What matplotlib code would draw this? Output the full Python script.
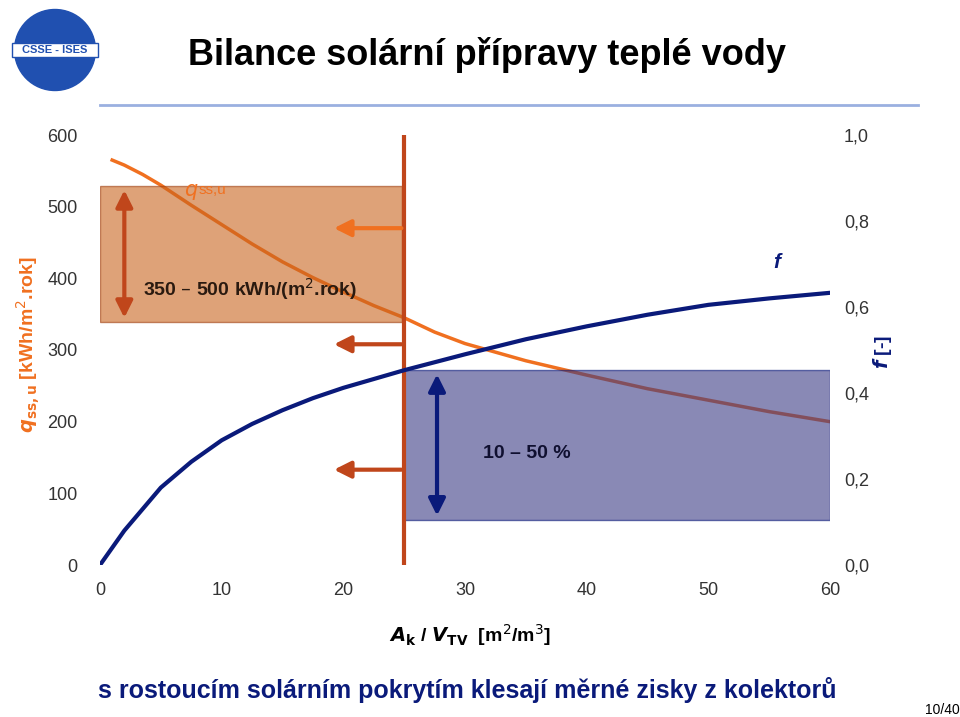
import matplotlib
matplotlib.use('Agg')
import matplotlib.pyplot as plt
from matplotlib.patches import Rectangle

# data
x_q = [1, 2, 3.5, 5, 7.5, 10, 12.5, 15, 17.5, 20, 22.5, 25, 27.5, 30, 35, 40, 45, 50, 55, 60]
q_vals = [565, 558, 545, 530, 502, 475, 448, 423, 401, 381, 362, 345, 325, 309, 285, 265, 246, 230, 214, 200]
x_f = [0, 2, 5, 7.5, 10, 12.5, 15, 17.5, 20, 25, 30, 35, 40, 45, 50, 55, 60]
f_vals = [0.0, 0.08, 0.18, 0.24, 0.29, 0.328, 0.36, 0.388, 0.412, 0.453, 0.49, 0.525, 0.555, 0.582, 0.605, 0.62, 0.633]
x_ticks = [0, 10, 20, 30, 40, 50, 60]
q_ticks = [0, 100, 200, 300, 400, 500, 600]
f_ticks = [0.0, 0.2, 0.4, 0.6, 0.8, 1.0]

orange = '#f07020'
navy = '#0a1a7a'
brick = '#c0461b'

plt.rcParams['font.family'] = 'Liberation Sans'
fig = plt.figure(figsize=(9.6, 7.17), dpi=100)
ax = fig.add_axes([100/960, 1-565/717, 730/960, 430/717])
ax2 = ax.twinx()

ax.set_xlim(0, 60)
ax.set_ylim(0, 600)
ax2.set_ylim(0, 1.0)
for a in (ax, ax2):
    for s in a.spines.values():
        s.set_visible(False)
    a.tick_params(length=0, labelsize=13, colors='#333333')
ax.set_xticks(x_ticks)
ax.set_yticks(q_ticks)
ax2.set_yticks(f_ticks)
ax2.set_yticklabels([f'{v:.1f}'.replace('.', ',') for v in f_ticks])
ax.tick_params(axis='y', pad=16)
ax.tick_params(axis='x', pad=12)
ax2.tick_params(axis='y', pad=10)

ax.plot(x_q, q_vals, color=orange, lw=2.5, zorder=2)
ax2.plot(x_f, f_vals, color=navy, lw=3, zorder=2)

ax.add_patch(Rectangle((0, 339), 24.8, 190, facecolor='#c8641e', alpha=0.6,
                       edgecolor='#a04010', lw=1, zorder=3))
ax.add_patch(Rectangle((25, 63), 35, 209, facecolor='#3a3a85', alpha=0.6,
                       edgecolor=navy, lw=1, zorder=3))
ax.axvline(25, color=brick, lw=3, zorder=4)

def arrow(x0, y0, x1, y1, c, both=False):
    ax.annotate('', xy=(x1, y1), xytext=(x0, y0), zorder=5,
                arrowprops=dict(arrowstyle='<|-|>' if both else '-|>', color=c,
                                lw=3, mutation_scale=25))

arrow(25, 470, 19, 470, orange)
arrow(25, 308, 19, 308, brick)
arrow(25, 133, 19, 133, brick)
arrow(2, 527, 2, 341, brick, both=True)
arrow(27.7, 270, 27.7, 65, navy, both=True)

ax.text(6.9, 515, '$q$', color=orange, fontsize=15, fontweight='bold', style='italic')
ax.text(8.1, 517, 'ss,u', color=orange, fontsize=11)
ax.text(3.5, 375, '350 – 500 kWh/(m$^2$.rok)', color='#2a1a10', fontsize=14,
        fontweight='bold')
ax.text(31.5, 150, '10 – 50 %', color='#101030', fontsize=14, fontweight='bold', zorder=6)
ax.text(55.3, 415, 'f', color=navy, fontsize=15, fontweight='bold', style='italic')

fig.text(28/960, 1-345/717, '$\\mathbfit{q}$$_{\\mathbf{ss,u}}$ [kWh/m$^2$.rok]', color=orange,
         fontsize=14, fontweight='bold', rotation=90, va='center', ha='center')
fig.text(883/960, 1-352/717, '$\\mathbfit{f}$ [-]', color=navy,
         fontsize=14, fontweight='bold', rotation=90, va='center', ha='center')
fig.text(470/960, 1-635/717, '$\\mathbfit{A}$$_{\\mathbf{k}}$ / $\\mathbfit{V}$$_{\\mathbf{TV}}$  [m$^2$/m$^3$]',
         fontsize=14, fontweight='bold', ha='center', va='center')

fig.text(487/960, 1-55/717, 'Bilance solární přípravy teplé vody', fontsize=26,
         ha='center', va='center', fontweight='bold')
fig.add_artist(plt.Line2D([100/960, 918/960], [1-105/717, 1-105/717], color='#9ab0e0', lw=2))
fig.text(467/960, 1-690/717, 's rostoucím solárním pokrytím klesají měrné zisky z kolektorů',
         fontsize=18, fontweight='bold', color=navy, ha='center', va='center')
fig.text(942/960, 1-710/717, '10/40', fontsize=10, ha='center', va='center')

# logo placeholder
logo = fig.add_axes([10/960, 1-95/717, 90/960, 90/717])
logo.axis('off')
logo.add_patch(plt.Circle((0.5, 0.5), 0.45, facecolor='#2050b0', edgecolor='#2050b0'))
logo.add_patch(Rectangle((0.02, 0.42), 0.96, 0.16, facecolor='white', edgecolor='#2050b0'))
logo.text(0.5, 0.5, 'CSSE - ISES', fontsize=8, fontweight='bold', color='#2050b0',
          ha='center', va='center')
logo.set_xlim(0, 1)
logo.set_ylim(0, 1)

fig.savefig('out.png', dpi=100)
